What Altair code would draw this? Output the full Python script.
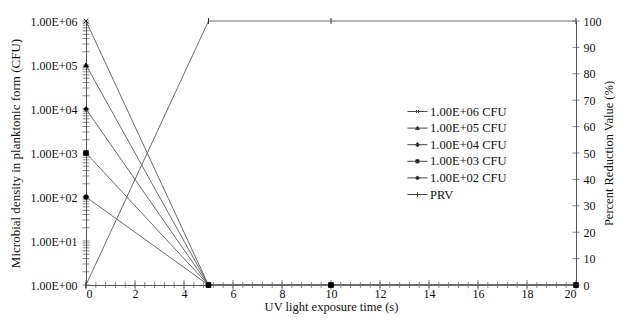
import altair as alt
import pandas as pd

# ---- data ----
times = [0, 5, 10, 20]
series_names = ["1.00E+06 CFU", "1.00E+05 CFU", "1.00E+04 CFU", "1.00E+03 CFU", "1.00E+02 CFU"]
cfu_values = [
    [1e6, 1, 1, 1],
    [1e5, 1, 1, 1],
    [1e4, 1, 1, 1],
    [1e3, 1, 1, 1],
    [1e2, 1, 1, 1],
]
prv_name = "PRV"
prv_values = [0, 100, 100, 100]
legend_names = series_names + [prv_name]

# axis tick / label positions
x_label_values = [0, 2, 4, 6, 8, 10, 12, 14, 16, 18, 20]
x_minor_ticks = [round(i * 0.4, 1) for i in range(51)]
y_label_values = [1, 10, 100, 1000, 10000, 100000, 1000000]
y_minor_ticks = [m * 10 ** e for e in range(6) for m in range(1, 10)] + [10 ** 6]
r_tick_values = [0, 10, 20, 30, 40, 50, 60, 70, 80, 90, 100]

# ---- styles ----
FONT = "Liberation Serif"
LINE = "#6a6a6a"
AX = "#555555"
W, H = 490, 264

marker_paths = [
    "M-1,-1L1,1M-1,1L1,-1",          # x
    "triangle-up",
    "diamond",
    "square",
    "circle",
]
# legend symbols: line segment with the marker in its middle (unit = 8 px)
legend_paths = [
    "M-1.25,0H1.25M-0.2,-0.2L0.2,0.2M-0.2,0.2L0.2,-0.2",
    "M-1.25,0H1.25M0,-0.25L0.25,0.19H-0.25Z",
    "M-1.25,0H1.25M0,-0.28L0.25,0L0,0.28L-0.25,0Z",
    "M-1.25,0H1.25M-0.2,-0.2H0.2V0.2H-0.2Z",
    "M-1.25,0H1.25M-0.2,0A0.2,0.2 0 1,0 0.2,0A0.2,0.2 0 1,0 -0.2,0Z",
    "M-1.25,0H1.25M0,-0.28V0.28",
]

rows = []
for name, vals in zip(series_names, cfu_values):
    for t, v in zip(times, vals):
        rows.append({"series": name, "t": t, "cfu": v})
df = pd.DataFrame(rows)
df_prv = pd.DataFrame({"t": times, "prv": prv_values})
df_leg = pd.DataFrame({"lg": legend_names})
df_xt = pd.DataFrame({"t": x_minor_ticks})
df_xl = pd.DataFrame({"t": x_label_values})
df_yt = pd.DataFrame({"cfu": y_minor_ticks})
df_rt = pd.DataFrame({"prv": r_tick_values})

x_scale = alt.Scale(domain=[0, 20], nice=False, zero=False)
x_axis = alt.Axis(
    title="UV light exposure time (s)", values=x_label_values, ticks=False, tickSize=0,
    labelPadding=3, titlePadding=1, grid=False, domainColor=AX, titleFontSize=12.5,
)
y_scale = alt.Scale(type="log", domain=[1, 1e6], nice=False)
y_axis = alt.Axis(
    title="Microbial density in planktonic form (CFU)", values=y_label_values,
    ticks=False, tickSize=0, labelPadding=9, titlePadding=7, grid=False, domainColor=AX,
    labelExpr="'1.00E+0' + format(log(datum.value) / LN10, '.0f')",
)
r_scale = alt.Scale(domain=[0, 100], nice=False)
r_axis = alt.Axis(
    title="Percent Reduction Value (%)", orient="right", values=r_tick_values,
    ticks=False, tickSize=0, labelPadding=7, titlePadding=14, grid=False, domainColor=AX,
    titleAngle=270, titleFontSize=12.5,
)

X = alt.X("t:Q", scale=x_scale, axis=x_axis)
Y = alt.Y("cfu:Q", scale=y_scale, axis=y_axis)

cfu_lines = alt.Chart(df).mark_line(color=LINE, strokeWidth=1).encode(
    x=X, y=Y, detail="series:N"
)
point_layers = []
for name, shp in zip(series_names, marker_paths):
    point_layers.append(
        alt.Chart(df).transform_filter(alt.datum.series == name).mark_point(
            shape=shp, filled=True, fill="black", stroke="black", strokeWidth=0.8,
            opacity=1, size=22,
        ).encode(x=X, y=Y)
    )
y_ticks = alt.Chart(df_yt).mark_tick(orient="horizontal", size=7, thickness=1, color=AX).encode(
    y=Y, x=alt.value(0)
)
x_minor = alt.Chart(df_xt).mark_tick(orient="vertical", size=6, thickness=1, color=AX).encode(
    x=X, y=alt.value(H)
)
x_major = alt.Chart(df_xl).mark_tick(orient="vertical", size=10, thickness=1, color=AX).encode(
    x=X, y=alt.value(H)
)
leg = alt.Legend(
    title=None, orient="none", legendX=323, legendY=82, padding=0,
    symbolSize=256, symbolStrokeWidth=1, symbolFillColor="black",
    symbolOpacity=1, labelOffset=4, rowPadding=1.6,
    labelFont=FONT, labelFontSize=12.5, labelColor="#111",
)
legend_layer = alt.Chart(df_leg).mark_point(
    filled=False, fill="black", strokeWidth=1, opacity=1, clip=True
).encode(
    x=alt.value(-200), y=alt.value(-200),
    shape=alt.Shape("lg:N", scale=alt.Scale(domain=legend_names, range=legend_paths), legend=leg),
    stroke=alt.Stroke("lg:N", scale=alt.Scale(domain=legend_names, range=["#444"] * 6), legend=leg),
)
left = alt.layer(y_ticks, x_minor, x_major, cfu_lines, *point_layers, legend_layer)

prv_line = alt.Chart(df_prv).mark_line(color=LINE, strokeWidth=1).encode(
    x=X, y=alt.Y("prv:Q", scale=r_scale, axis=r_axis)
)
prv_points = alt.Chart(df_prv).mark_point(
    shape="M0,-1V1", size=36, stroke="#333", strokeWidth=1, filled=False, opacity=1
).encode(x=X, y=alt.Y("prv:Q", scale=r_scale, axis=r_axis))
r_ticks = alt.Chart(df_rt).mark_tick(orient="horizontal", size=7, thickness=1, color=AX).encode(
    y=alt.Y("prv:Q", scale=r_scale, axis=r_axis), x=alt.value(W)
)
right = alt.layer(prv_line, prv_points, r_ticks)

chart = (
    alt.layer(left, right)
    .resolve_scale(y="independent")
    .properties(
        width=W, height=H,
        autosize=alt.AutoSizeParams(type="none"),
        padding={"left": 78, "top": 13, "right": 39, "bottom": 31},
    )
    .configure_view(stroke=None)
    .configure_axis(
        labelFont=FONT, labelFontSize=12, labelColor="#111",
        titleFont=FONT, titleFontSize=13, titleFontWeight="normal", titleColor="#111",
    )
)

chart.save("out.html", embed_options={"renderer": "svg", "actions": False})
